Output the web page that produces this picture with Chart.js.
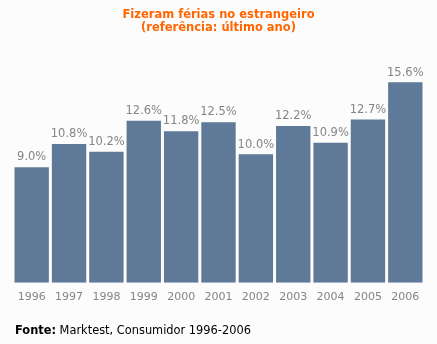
<!DOCTYPE html>
<html>
<head>
<meta charset="utf-8">
<script src="https://cdn.jsdelivr.net/npm/chart.js@4/dist/chart.umd.min.js"></script>
<style>
  body { margin: 0; background: #fcfcfc; }
  #wrap { position: relative; width: 437px; height: 344px; }
  #fonte { position: absolute; left: 15px; top: 323px; font: 11.4px "DejaVu Sans", Verdana, sans-serif; color: #000; }
</style>
</head>
<body>
<div id="wrap">
  <canvas id="grafico" width="437" height="344"></canvas>
  <div id="fonte"><b>Fonte:</b> Marktest, Consumidor 1996-2006</div>
</div>
<script>
// dados
const anos = ['1996', '1997', '1998', '1999', '2000', '2001', '2002', '2003', '2004', '2005', '2006'];
const percentagens = [9.0, 10.8, 10.2, 12.6, 11.8, 12.5, 10.0, 12.2, 10.9, 12.7, 15.6];
const tituloLinhas = ['Fizeram férias no estrangeiro', '(referência: último ano)'];

const fonte = '"DejaVu Sans", Verdana, sans-serif';

// rótulos por cima das barras
const rotulos = {
  id: 'rotulos',
  afterDatasetsDraw(chart) {
    const ctx = chart.ctx;
    const meta = chart.getDatasetMeta(0);
    ctx.save();
    ctx.font = '11.5px ' + fonte;
    ctx.fillStyle = '#858585';
    ctx.textAlign = 'center';
    ctx.textBaseline = 'bottom';
    meta.data.forEach((bar, i) => {
      ctx.fillText(percentagens[i].toFixed(1) + '%', bar.x, bar.y - 4);
    });
    ctx.restore();
  }
};

const ctx = document.getElementById('grafico').getContext('2d');
new Chart(ctx, {
  type: 'bar',
  data: {
    labels: anos,
    datasets: [{
      data: percentagens,
      backgroundColor: '#5f7a99',
      barPercentage: 0.92,
      categoryPercentage: 1.0
    }]
  },
  options: {
    responsive: false,
    animation: false,
    layout: { padding: { left: 13, right: 13, top: 0, bottom: 40 } },
    plugins: {
      legend: { display: false },
      tooltip: { enabled: false },
      title: {
        display: true,
        text: tituloLinhas,
        color: '#ff6600',
        font: { family: fonte, size: 11.5, weight: 'bold', lineHeight: 1.15 },
        padding: { top: 8, bottom: 17 }
      }
    },
    scales: {
      x: {
        grid: { display: false },
        border: { display: false },
        ticks: { color: '#858585', font: { family: fonte, size: 11 }, padding: 0 }
      },
      y: {
        display: false,
        min: 0,
        max: 18
      }
    }
  },
  plugins: [rotulos]
});
</script>
</body>
</html>
